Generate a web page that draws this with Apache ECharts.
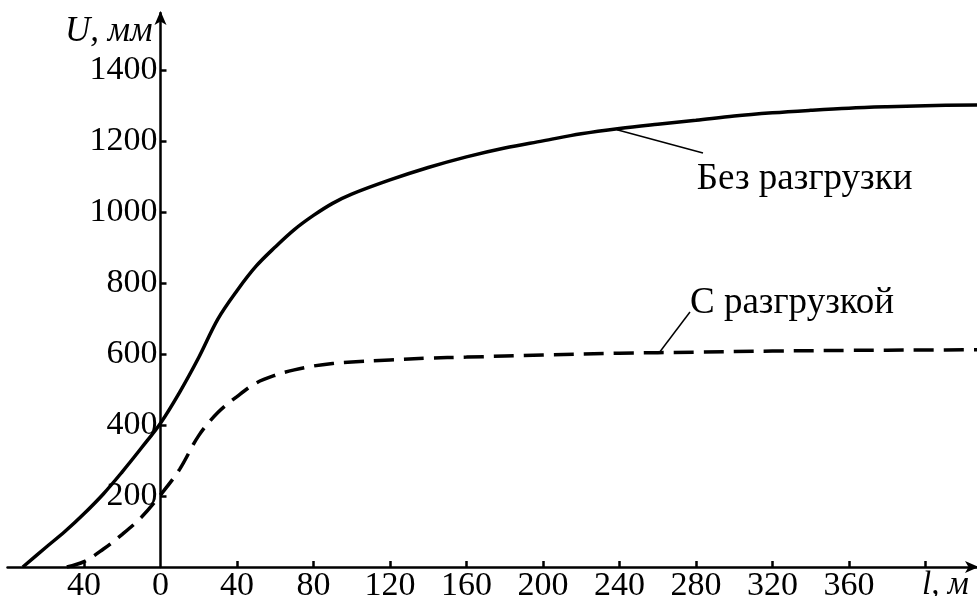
<!DOCTYPE html>
<html>
<head>
<meta charset="utf-8">
<script src="https://cdn.jsdelivr.net/npm/echarts@6/dist/echarts.min.js"></script>
<style>
html,body{margin:0;padding:0;background:#fff;}
#chart{width:977px;height:596px;}
</style>
</head>
<body>
<div id="chart"></div>
<script>
// Data (x in m, y in mm)
var noUnloadX = [-72, -60, -50, -40, -30, -20, -10, 0, 10, 20, 30, 40, 50, 60, 70, 80, 90, 100, 120, 140, 160, 180, 200, 220, 240, 260, 280, 300, 320, 340, 360, 380, 400, 427];
var noUnloadY = [0, 55, 100, 150, 205, 268, 335, 405, 492, 590, 698, 778, 847, 901, 950, 990, 1024, 1050, 1090, 1125, 1155, 1180, 1200, 1220, 1235, 1247, 1258, 1270, 1279, 1286, 1292, 1296, 1299, 1301];
var unloadX = [-49, -40, -30, -20, -10, 0, 10, 20, 30, 40, 50, 60, 70, 80, 90, 100, 120, 140, 160, 200, 240, 280, 320, 360, 400, 427];
var unloadY = [0, 15, 50, 92, 140, 203, 275, 370, 435, 480, 518, 540, 555, 566, 573, 577, 583, 588, 591, 597, 602, 605, 608, 610, 611, 612];
var xTickValues = [-40, 40, 80, 120, 160, 200, 240, 280, 320, 360, 400];
var xLabelValues = [-40, 0, 40, 80, 120, 160, 200, 240, 280, 320, 360, 400];
var seriesNames = ['Без разгрузки', 'С разгрузкой'];
var xAxisName = 'l, м';
var yAxisName = 'U, мм';

function zip(xs, ys) { return xs.map(function (x, i) { return [x, ys[i]]; }); }

var FONT = '"Liberation Serif", "DejaVu Serif", serif';
var chart = echarts.init(document.getElementById('chart'), null, {renderer: 'canvas'});
chart.setOption({
  animation: false,
  backgroundColor: '#fff',
  grid: {left: 7.5, right: 0, top: 13, bottom: 29, containLabel: false, outerBoundsMode: 'none'},
  xAxis: {
    type: 'value', min: -80, max: 427,
    axisLine: {onZero: false, lineStyle: {color: '#000', width: 2.5}, symbol: ['none', 'arrow'], symbolSize: [9, 14], symbolOffset: [0, 2]},
    axisTick: {show: true, inside: true, length: 6, lineStyle: {color: '#000', width: 2.5}, customValues: xTickValues},
    axisLabel: {
      customValues: xLabelValues, margin: 2, color: '#000', fontFamily: FONT, fontSize: 34,
      formatter: function (v) { return v === 400 ? '{it|' + xAxisName + '}' : String(Math.abs(v)); },
      rich: {it: {fontStyle: 'italic', fontFamily: FONT, fontSize: 33, color: '#000', padding: [0, 0, 0, 40]}}
    },
    splitLine: {show: false}
  },
  yAxis: {
    type: 'value', min: 0, max: 1560, interval: 200, offset: -153,
    name: yAxisName, nameLocation: 'end', nameGap: -19,
    nameTextStyle: {fontFamily: FONT, fontStyle: 'italic', fontSize: 35, color: '#000', align: 'right', verticalAlign: 'middle', padding: [0, 8, 0, 0]},
    axisLine: {onZero: false, lineStyle: {color: '#000', width: 2.5}, symbol: ['none', 'arrow'], symbolSize: [9, 14], symbolOffset: [0, 2]},
    axisTick: {show: true, inside: true, length: 6, lineStyle: {color: '#000', width: 2.5}},
    axisLabel: {
      margin: 3, color: '#000', fontFamily: FONT, fontSize: 34, showMinLabel: false, showMaxLabel: false,
      formatter: function (v) { return v === 0 ? '' : String(v); }
    },
    splitLine: {show: false}
  },
  series: [
    {
      name: seriesNames[0], type: 'line', smooth: 0.35, symbol: 'none',
      data: zip(noUnloadX, noUnloadY),
      lineStyle: {color: '#000', width: 3.5},
      markLine: {
        silent: true, symbol: ['none', 'none'], label: {show: false},
        lineStyle: {color: '#000', width: 1.5, type: 'solid'},
        data: [[{coord: [238.7, 1231]}, {coord: [283.7, 1166]}]]
      },
      markPoint: {
        silent: true, symbol: 'circle', symbolSize: 0,
        data: [{coord: [280.5, 1092], label: {show: true, position: [0, 0], align: 'left', verticalAlign: 'middle', formatter: seriesNames[0], fontFamily: FONT, fontSize: 37, color: '#000'}}]
      }
    },
    {
      name: seriesNames[1], type: 'line', smooth: 0.35, symbol: 'none',
      data: zip(unloadX, unloadY),
      lineStyle: {color: '#000', width: 3.5, type: [20, 10]},
      markLine: {
        silent: true, symbol: ['none', 'none'], label: {show: false},
        lineStyle: {color: '#000', width: 1.5, type: 'solid'},
        data: [[{coord: [261.2, 606]}, {coord: [276.9, 718]}]]
      },
      markPoint: {
        silent: true, symbol: 'circle', symbolSize: 0,
        data: [{coord: [276.9, 743], label: {show: true, position: [0, 0], align: 'left', verticalAlign: 'middle', formatter: seriesNames[1], fontFamily: FONT, fontSize: 37, color: '#000'}}]
      }
    }
  ]
});
</script>
</body>
</html>
